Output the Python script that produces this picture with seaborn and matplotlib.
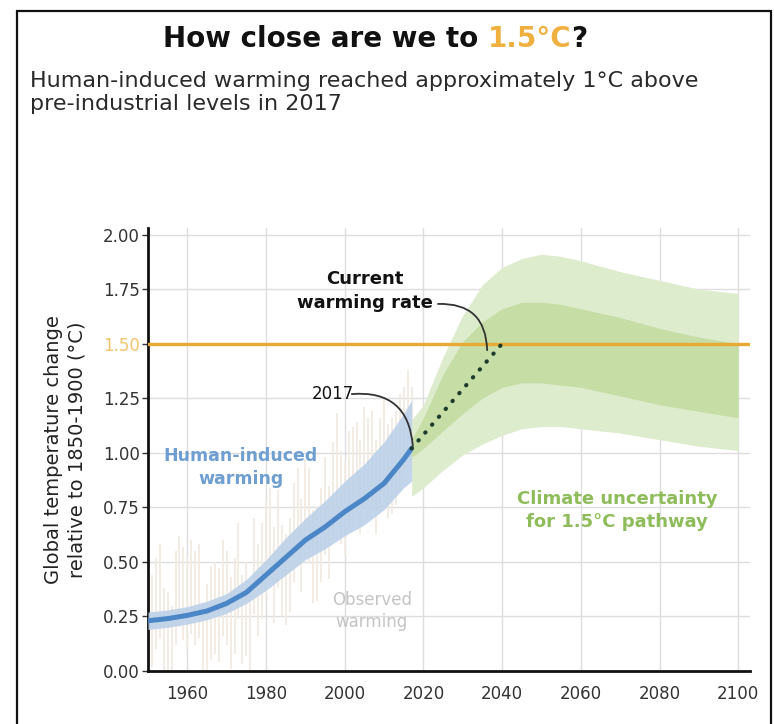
import matplotlib
matplotlib.use("Agg")
import matplotlib.pyplot as plt
import seaborn as sns
import numpy as np
from matplotlib.patches import Rectangle

# ---------------- data ----------------
# Human-induced warming (central estimate and likely range)
hw_years = [1950, 1955, 1960, 1965, 1970, 1975, 1980, 1985, 1990, 1995, 2000, 2005, 2010, 2015, 2017]
hw_mean = [0.23, 0.24, 0.255, 0.275, 0.31, 0.36, 0.44, 0.52, 0.60, 0.66, 0.73, 0.79, 0.86, 0.97, 1.02]
hw_low = [0.19, 0.20, 0.215, 0.235, 0.265, 0.31, 0.37, 0.44, 0.51, 0.56, 0.62, 0.67, 0.74, 0.84, 0.87]
hw_high = [0.27, 0.28, 0.295, 0.32, 0.355, 0.42, 0.51, 0.61, 0.70, 0.78, 0.87, 0.95, 1.05, 1.18, 1.24]

# Climate uncertainty for 1.5°C pathway
pw_years = [2017, 2020, 2025, 2030, 2035, 2040, 2045, 2050, 2055, 2060, 2070, 2080, 2090, 2100]
pw_outer_hi = [1.15, 1.22, 1.44, 1.63, 1.77, 1.85, 1.89, 1.91, 1.90, 1.88, 1.83, 1.79, 1.75, 1.73]
pw_outer_lo = [0.80, 0.84, 0.92, 0.99, 1.04, 1.08, 1.11, 1.12, 1.12, 1.11, 1.09, 1.06, 1.03, 1.01]
pw_inner_hi = [1.06, 1.16, 1.36, 1.51, 1.60, 1.66, 1.69, 1.69, 1.68, 1.66, 1.62, 1.57, 1.53, 1.50]
pw_inner_lo = [0.98, 1.02, 1.10, 1.18, 1.25, 1.30, 1.32, 1.32, 1.31, 1.30, 1.26, 1.22, 1.19, 1.16]

# Current warming rate extrapolation
cw_years = [2017, 2040]
cw_vals = [1.02, 1.50]

target_level = 1.5

# Observed warming (annual spread)
obs_years = list(range(1950, 2018))
obs_low = [-0.05, 0.02, 0.10, 0.15, -0.02, -0.04, -0.08, 0.12, 0.20, 0.14,
           0.10, 0.17, 0.12, 0.15, -0.10, -0.02, 0.05, 0.08, 0.04, 0.16,
           0.12, 0.01, 0.08, 0.24, 0.03, 0.07, -0.01, 0.26, 0.16, 0.24,
           0.34, 0.40, 0.22, 0.38, 0.25, 0.21, 0.27, 0.41, 0.48, 0.36,
           0.53, 0.49, 0.31, 0.32, 0.41, 0.53, 0.42, 0.60, 0.70, 0.58,
           0.53, 0.66, 0.68, 0.71, 0.63, 0.76, 0.72, 0.74, 0.63, 0.73,
           0.80, 0.70, 0.72, 0.76, 0.82, 0.90, 0.99, 0.93]
obs_high = [0.33, 0.44, 0.52, 0.58, 0.38, 0.36, 0.30, 0.55, 0.62, 0.57,
            0.52, 0.60, 0.55, 0.58, 0.30, 0.40, 0.48, 0.50, 0.47, 0.60,
            0.55, 0.43, 0.52, 0.68, 0.44, 0.50, 0.41, 0.70, 0.58, 0.68,
            0.78, 0.84, 0.66, 0.83, 0.67, 0.63, 0.70, 0.86, 0.93, 0.79,
            0.97, 0.93, 0.74, 0.75, 0.84, 0.98, 0.85, 1.05, 1.18, 1.01,
            0.96, 1.10, 1.12, 1.14, 1.06, 1.21, 1.16, 1.19, 1.06, 1.16,
            1.25, 1.13, 1.16, 1.19, 1.27, 1.30, 1.38, 1.30]

x_ticks = [1960, 1980, 2000, 2020, 2040, 2060, 2080, 2100]
y_ticks = [0.0, 0.25, 0.5, 0.75, 1.0, 1.25, 1.5, 1.75, 2.0]
y_ticklabels = ["0.00", "0.25", "0.50", "0.75", "1.00", "1.25", "1.50", "1.75", "2.00"]

title_parts = [("How close are we to ", "#111111"), ("1.5°C", "#f0b040"), ("?", "#111111")]
subtitle_lines = ["Human-induced warming reached approximately 1°C above",
                  "pre-industrial levels in 2017"]
y_label = "Global temperature change\nrelative to 1850-1900 (°C)"

# ---------------- style ----------------
sns.set_theme(style="white")
plt.rcParams["font.family"] = ["DejaVu Sans"]

W, H = 774, 724
fig = plt.figure(figsize=(W / 100, H / 100), dpi=100)
fig.patch.set_facecolor("white")
ax = fig.add_axes([148 / W, 1 - 671 / H, 602 / W, 443 / H])

BLUE = "#4b86c6"
BLUE_BAND = "#bcd1e8"
GREEN_OUT = "#deecce"
GREEN_IN = "#c6dea6"
ORANGE = "#e9aa35"
DOT = "#1c3b2c"

# observed warming (faint vertical strokes)
ax.vlines(obs_years, obs_low, obs_high, color="#f1ebe2", lw=1.3, zorder=1)

# pathway uncertainty bands
ax.fill_between(pw_years, pw_outer_lo, pw_outer_hi, color=GREEN_OUT, lw=0, zorder=2)
ax.fill_between(pw_years, pw_inner_lo, pw_inner_hi, color=GREEN_IN, lw=0, zorder=2.1)

# human-induced band
ax.fill_between(hw_years, hw_low, hw_high, color=BLUE_BAND, lw=0, alpha=0.9, zorder=3)

# 1.5 line
ax.axhline(target_level, color=ORANGE, lw=2.4, zorder=4)

# human-induced central line
sns.lineplot(x=hw_years, y=hw_mean, ax=ax, color=BLUE, lw=3.6, zorder=5,
             solid_capstyle="round")

# current warming rate dotted
sns.lineplot(x=cw_years, y=cw_vals, ax=ax, color=DOT, lw=3.0, zorder=6,
             linestyle=(0, (0.1, 2.4)), dash_capstyle="round")

ax.set_xlim(1950, 2103)
ax.set_ylim(0, 2.03)
ax.set_xticks(x_ticks)
ax.set_xticklabels([str(t) for t in x_ticks])
ax.set_yticks(y_ticks)
ax.set_yticklabels(y_ticklabels)
ax.grid(True, color="#dddddd", lw=1)
ax.set_axisbelow(True)
ax.tick_params(axis="y", length=4, width=1, color="#333333", labelsize=12,
               labelcolor="#333333", pad=2, left=True)
ax.tick_params(axis="x", length=0, labelsize=12, labelcolor="#333333", pad=10)
ax.get_yticklabels()[6].set_color("#f3c46a")
for s in ["top", "right"]:
    ax.spines[s].set_visible(False)
for s in ["left", "bottom"]:
    ax.spines[s].set_color("#111111")
    ax.spines[s].set_linewidth(2)
ax.set_xlabel("")
ax.set_ylabel("")

# annotations
ax.text(2005.1, 1.74, "Current\nwarming rate", ha="center", va="center",
        fontsize=13, fontweight="bold", color="#111111", linespacing=1.45, zorder=7)
ax.annotate("", xy=(2036.2, 1.47), xytext=(2023.7, 1.682),
            arrowprops=dict(arrowstyle="-", connectionstyle="arc3,rad=-0.5",
                            color="#333333", lw=1.3, shrinkA=0, shrinkB=0), zorder=7)
ax.text(1997.0, 1.27, "2017", ha="center", va="center", fontsize=12,
        color="#111111", zorder=7)
ax.annotate("", xy=(2017.3, 1.031), xytext=(2001.8, 1.269),
            arrowprops=dict(arrowstyle="-", connectionstyle="arc3,rad=-0.5",
                            color="#333333", lw=1.3, shrinkA=0, shrinkB=0), zorder=7)
ax.text(1973.6, 0.933, "Human-induced\nwarming", ha="center", va="center",
        fontsize=12.5, fontweight="bold", color="#6e9fd0", linespacing=1.4, zorder=7)
ax.text(2006.9, 0.275, "Observed\nwarming", ha="center", va="center",
        fontsize=12, color="#c4c4c4", linespacing=1.25, zorder=7)
ax.text(2069.2, 0.736, "Climate uncertainty\nfor 1.5°C pathway", ha="center", va="center",
        fontsize=13, fontweight="bold", color="#8fbc5a", linespacing=1.35, zorder=7)

# y label
fig.text(65 / W, 1 - 450 / H, y_label, rotation=90, ha="center", va="center",
         multialignment="center", fontsize=14, linespacing=1.3, color="#222222")

# subtitle
fig.text(30 / W, 1 - 87 / H, subtitle_lines[0], fontsize=16, color="#2a2a2a", va="baseline")
fig.text(30 / W, 1 - 110 / H, subtitle_lines[1], fontsize=16, color="#2a2a2a", va="baseline")

# title made of coloured pieces, centred
renderer = fig.canvas.get_renderer()
pieces = []
for txt, col in title_parts:
    t = fig.text(0, 1 - 47 / H, txt, fontsize=20, fontweight="bold", color=col, va="baseline")
    pieces.append(t)
widths = [p.get_window_extent(renderer).width for p in pieces]
total = sum(widths)
x0 = 375 - total / 2
for p, w in zip(pieces, widths):
    p.set_x(x0 / W)
    x0 += w

# frame
fig.add_artist(Rectangle((17 / W, -0.02), (771 - 17) / W, 1 - 11 / H + 0.02,
                         transform=fig.transFigure, fill=False, ec="#111111", lw=1.6))

fig.savefig("out.png", dpi=100)
